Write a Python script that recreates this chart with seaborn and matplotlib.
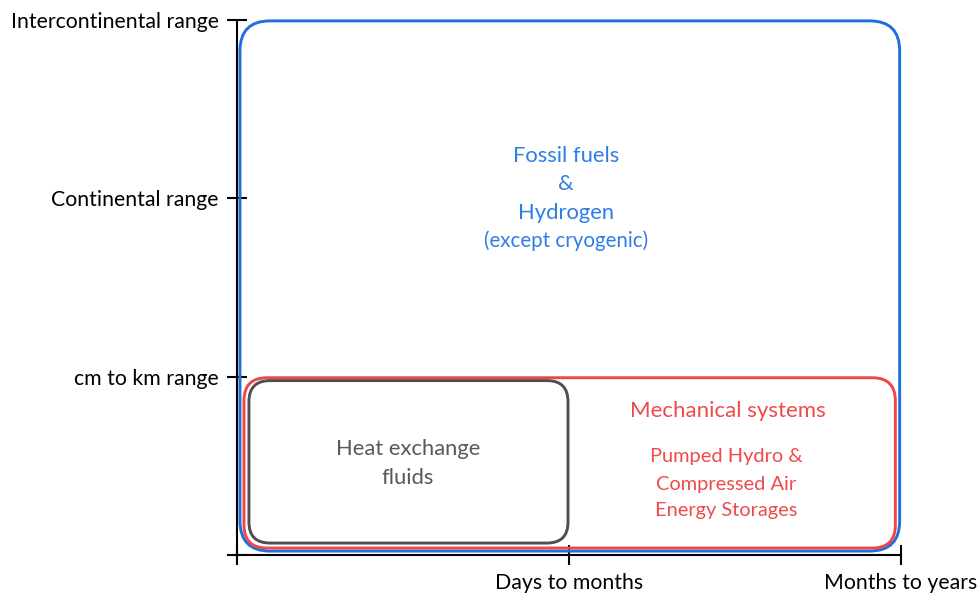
import matplotlib
matplotlib.use("Agg")
import matplotlib.pyplot as plt
import seaborn as sns
from matplotlib.patches import FancyBboxPatch

# ------------------------------------------------------------------
# data
# ------------------------------------------------------------------
x_labels = ["", "Days to months", "Months to years"]
y_labels = ["", "cm to km range", "Continental range", "Intercontinental range"]

box_names = ["Fossil fuels & Hydrogen", "Mechanical systems", "Heat exchange fluids"]
box_x0 = [0.009, 0.021, 0.036]
box_x1 = [1.996, 1.983, 0.997]
box_y0 = [0.022, 0.039, 0.067]
box_y1 = [2.995, 0.994, 0.978]
box_colors = ["#1f6fdc", "#ef4747", "#4f4f4f"]
box_radius_px = [30, 23, 21]

sns.set_style("ticks")
plt.rcParams["font.family"] = ["Lato", "DejaVu Sans"]

fig = plt.figure(figsize=(9.79, 5.93), dpi=100)
ax = fig.add_axes([237 / 979, 38 / 593, 664 / 979, 535 / 593])

ax.set_xlim(0, len(x_labels) - 1)
ax.set_ylim(0, len(y_labels) - 1)
ax.set_xticks(range(len(x_labels)))
ax.set_xticklabels(x_labels, fontsize=15.3)
ax.set_yticks(range(len(y_labels)))
ax.set_yticklabels(y_labels, fontsize=15.3)
ax.tick_params(bottom=True, left=True, direction="inout", length=15, width=1.5,
               color="black", labelcolor="black", pad=5.5)
sns.despine(ax=ax)
for s in ["left", "bottom"]:
    ax.spines[s].set_color("black")
    ax.spines[s].set_linewidth(1.5)

# pixels per data unit in x and y, so rounded corners look circular
fig.canvas.draw()
p0 = ax.transData.transform((0, 0))
p1 = ax.transData.transform((1, 1))
px_x = p1[0] - p0[0]
px_y = p1[1] - p0[1]

for x0, x1, y0, y1, c, r in zip(box_x0, box_x1, box_y0, box_y1, box_colors, box_radius_px):
    patch = FancyBboxPatch(
        (x0, y0), x1 - x0, y1 - y0,
        boxstyle=f"round,pad=0,rounding_size={r / px_x}",
        mutation_aspect=px_x / px_y,
        fill=False, edgecolor=c, linewidth=2.1, clip_on=False,
    )
    ax.add_patch(patch)

blue_txt = "#2f7de6"
red_txt = "#ef4a4a"
gray_txt = "#595959"

ax.text(0.991, 2.24, "Fossil fuels", color=blue_txt, fontsize=15.8, ha="center", va="center")
ax.text(0.991, 2.08, "&", color=blue_txt, fontsize=15.8, ha="center", va="center")
ax.text(0.991, 1.917, "Hydrogen", color=blue_txt, fontsize=15.8, ha="center", va="center")
ax.text(0.991, 1.765, "(except cryogenic)", color=blue_txt, fontsize=14.8, ha="center", va="center")

ax.text(0.515, 0.595, "Heat exchange", color=gray_txt, fontsize=15.8, ha="center", va="center")
ax.text(0.515, 0.432, "fluids", color=gray_txt, fontsize=15.8, ha="center", va="center")

ax.text(1.479, 0.81, "Mechanical systems", color=red_txt, fontsize=16, ha="center", va="center")
ax.text(1.473, 0.55, "Pumped Hydro &", color=red_txt, fontsize=14.4, ha="center", va="center")
ax.text(1.473, 0.398, "Compressed Air", color=red_txt, fontsize=14.4, ha="center", va="center")
ax.text(1.473, 0.252, "Energy Storages", color=red_txt, fontsize=14.4, ha="center", va="center")

fig.savefig("out.png", dpi=100)
